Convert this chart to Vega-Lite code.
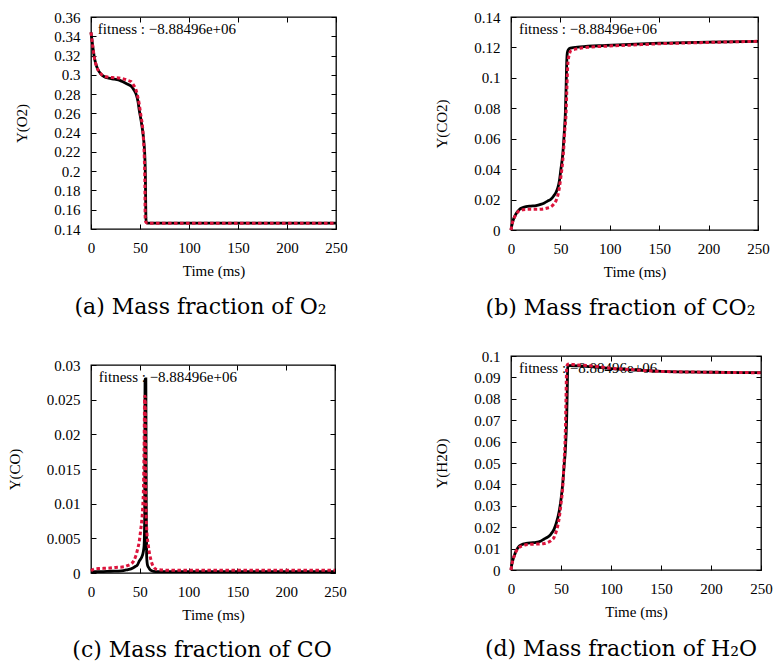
{
 "$schema": "https://vega.github.io/schema/vega-lite/v6.json",
 "padding": {"left": 6, "top": 9, "right": 0, "bottom": 0},
 "background": "white",
 "datasets": {
  "o2_sim": [{"t":0,"y":0.344},{"t":1,"y":0.336},{"t":2,"y":0.328},{"t":3.4,"y":0.318},{"t":5,"y":0.311},{"t":6.8,"y":0.306},{"t":10,"y":0.301},{"t":13.6,"y":0.298},{"t":18,"y":0.2965},{"t":23.8,"y":0.2955},{"t":30,"y":0.294},{"t":34,"y":0.292},{"t":38,"y":0.29},{"t":40.8,"y":0.2885},{"t":44,"y":0.284},{"t":46,"y":0.28},{"t":48,"y":0.272},{"t":49.3,"y":0.263},{"t":51,"y":0.253},{"t":52.7,"y":0.242},{"t":54,"y":0.23},{"t":55,"y":0.214},{"t":55.5,"y":0.195},{"t":56,"y":0.152},{"t":56.5,"y":0.147},{"t":58,"y":0.146},{"t":70,"y":0.146},{"t":250,"y":0.146}],
  "o2_ref": [{"t":0,"y":0.344},{"t":1,"y":0.336},{"t":2,"y":0.328},{"t":3.4,"y":0.318},{"t":5,"y":0.311},{"t":6.8,"y":0.306},{"t":10,"y":0.301},{"t":13.6,"y":0.2985},{"t":18,"y":0.2975},{"t":23.8,"y":0.297},{"t":30,"y":0.2965},{"t":34,"y":0.2955},{"t":38,"y":0.294},{"t":40.8,"y":0.293},{"t":43,"y":0.29},{"t":46,"y":0.284},{"t":48,"y":0.276},{"t":49.3,"y":0.269},{"t":51,"y":0.257},{"t":52.7,"y":0.245},{"t":53.6,"y":0.232},{"t":54.4,"y":0.214},{"t":55,"y":0.185},{"t":55.3,"y":0.152},{"t":56,"y":0.147},{"t":58,"y":0.146},{"t":70,"y":0.146},{"t":250,"y":0.146}],
  "co2_sim": [{"t":0,"y":0},{"t":1,"y":0.0035},{"t":2,"y":0.006},{"t":3.4,"y":0.0084},{"t":5,"y":0.0105},{"t":8.5,"y":0.0135},{"t":12,"y":0.0147},{"t":15.2,"y":0.0153},{"t":20,"y":0.0157},{"t":25.4,"y":0.016},{"t":30,"y":0.0168},{"t":33.8,"y":0.0178},{"t":37,"y":0.019},{"t":40.6,"y":0.0204},{"t":43,"y":0.0222},{"t":45.6,"y":0.0248},{"t":47.5,"y":0.028},{"t":49,"y":0.0324},{"t":50.5,"y":0.04},{"t":52.4,"y":0.05},{"t":53.5,"y":0.06},{"t":54.3,"y":0.068},{"t":55,"y":0.0763},{"t":55.8,"y":0.095},{"t":56.5,"y":0.112},{"t":57,"y":0.1165},{"t":58,"y":0.1185},{"t":60,"y":0.1195},{"t":70,"y":0.1203},{"t":96,"y":0.1213},{"t":120,"y":0.122},{"t":150,"y":0.1228},{"t":200,"y":0.1235},{"t":250,"y":0.124}],
  "co2_ref": [{"t":0,"y":0},{"t":1,"y":0.0035},{"t":2,"y":0.006},{"t":3.4,"y":0.0082},{"t":5,"y":0.0102},{"t":8.5,"y":0.0127},{"t":12,"y":0.0133},{"t":15.2,"y":0.0135},{"t":20,"y":0.0136},{"t":25.4,"y":0.0136},{"t":30,"y":0.0137},{"t":33.8,"y":0.014},{"t":37,"y":0.0145},{"t":40.6,"y":0.0153},{"t":43,"y":0.0168},{"t":45.6,"y":0.0193},{"t":47.5,"y":0.023},{"t":49,"y":0.028},{"t":50.5,"y":0.035},{"t":52.4,"y":0.0456},{"t":53.5,"y":0.055},{"t":54.5,"y":0.066},{"t":55.7,"y":0.0763},{"t":56.5,"y":0.092},{"t":57.5,"y":0.109},{"t":58.5,"y":0.114},{"t":60.9,"y":0.118},{"t":70,"y":0.1195},{"t":79.5,"y":0.1202},{"t":96,"y":0.1208},{"t":120,"y":0.1215},{"t":150,"y":0.1224},{"t":200,"y":0.1233},{"t":250,"y":0.124}],
  "co_sim": [{"t":0,"y":0.0002},{"t":10,"y":0.0002},{"t":20,"y":0.00025},{"t":31,"y":0.0003},{"t":38,"y":0.0005},{"t":41,"y":0.0006},{"t":45,"y":0.0009},{"t":47.7,"y":0.0012},{"t":49.4,"y":0.0017},{"t":52,"y":0.0023},{"t":53.5,"y":0.003},{"t":54.4,"y":0.0039},{"t":55,"y":0.008},{"t":55.4,"y":0.028},{"t":56.2,"y":0.028},{"t":56.6,"y":0.01},{"t":57,"y":0.0025},{"t":57.8,"y":0.0012},{"t":59,"y":0.0008},{"t":61,"y":0.0004},{"t":64,"y":0.00025},{"t":68,"y":0.0002},{"t":80,"y":0.0002},{"t":250,"y":0.0002}],
  "co_ref": [{"t":0,"y":0.0003},{"t":2,"y":0.0005},{"t":4,"y":0.0006},{"t":10,"y":0.00065},{"t":17.5,"y":0.0007},{"t":25,"y":0.0008},{"t":34,"y":0.0009},{"t":38,"y":0.0011},{"t":41,"y":0.0013},{"t":44,"y":0.0018},{"t":46,"y":0.0025},{"t":47.7,"y":0.0034},{"t":49.4,"y":0.0045},{"t":51,"y":0.0063},{"t":52,"y":0.0075},{"t":53,"y":0.0095},{"t":53.8,"y":0.0125},{"t":54.4,"y":0.018},{"t":55,"y":0.0255},{"t":55.5,"y":0.0255},{"t":56,"y":0.012},{"t":57,"y":0.0065},{"t":58.8,"y":0.0039},{"t":61.2,"y":0.002},{"t":64.5,"y":0.0008},{"t":68,"y":0.0005},{"t":80,"y":0.0004},{"t":250,"y":0.0004}],
  "h2o_sim": [{"t":0,"y":0},{"t":1,"y":0.003},{"t":2,"y":0.0048},{"t":3.3,"y":0.0067},{"t":5,"y":0.0088},{"t":8.3,"y":0.0112},{"t":12,"y":0.0121},{"t":15,"y":0.0124},{"t":20,"y":0.0127},{"t":25,"y":0.0129},{"t":30,"y":0.0136},{"t":33.3,"y":0.0145},{"t":37,"y":0.0155},{"t":40,"y":0.0168},{"t":43,"y":0.019},{"t":45,"y":0.0215},{"t":48.3,"y":0.0277},{"t":50,"y":0.033},{"t":51.7,"y":0.0402},{"t":53,"y":0.048},{"t":54.3,"y":0.0557},{"t":55.7,"y":0.0713},{"t":56.3,"y":0.085},{"t":56.7,"y":0.0947},{"t":58,"y":0.0955},{"t":60,"y":0.0955},{"t":80,"y":0.095},{"t":100,"y":0.0941},{"t":125,"y":0.0934},{"t":150,"y":0.0928},{"t":200,"y":0.0924},{"t":250,"y":0.0922}],
  "h2o_ref": [{"t":0,"y":0},{"t":1,"y":0.003},{"t":2,"y":0.0048},{"t":3.3,"y":0.0066},{"t":5,"y":0.0086},{"t":8.3,"y":0.0106},{"t":12,"y":0.0114},{"t":15,"y":0.0118},{"t":20,"y":0.012},{"t":25,"y":0.0121},{"t":30,"y":0.0122},{"t":33.3,"y":0.0124},{"t":37,"y":0.0129},{"t":40,"y":0.0137},{"t":43,"y":0.0152},{"t":45,"y":0.0176},{"t":48.3,"y":0.0246},{"t":50,"y":0.031},{"t":51.7,"y":0.0386},{"t":53,"y":0.05},{"t":54.3,"y":0.0636},{"t":55,"y":0.08},{"t":55.7,"y":0.0947},{"t":56.5,"y":0.096},{"t":58.3,"y":0.0963},{"t":65,"y":0.0958},{"t":78,"y":0.0955},{"t":100,"y":0.0943},{"t":125,"y":0.0935},{"t":150,"y":0.0928},{"t":200,"y":0.0924},{"t":250,"y":0.0922}],
  "fit_o2": [{"t":7,"y":0.3475,"label":"fitness : −8.88496e+06"}],
  "fit_co2": [{"t":8,"y":0.1321,"label":"fitness : −8.88496e+06"}],
  "fit_co": [{"t":8,"y":0.0283,"label":"fitness : −8.88496e+06"}],
  "fit_h2o": [{"t":8,"y":0.0944,"label":"fitness : −8.88496e+06"}]
 },
 "spacing": 86,
 "hconcat": [
  {"spacing": 38, "vconcat": [
   {"width": 245, "height": 212,
    "title": {"text": "(a) Mass fraction of O₂", "orient": "bottom", "anchor": "middle", "frame": "group", "offset": 19, "dx": -13},
    "resolve": {"axis": {"x": "independent", "y": "independent"}},
    "layer": [
     {"data": {"name": "fit_o2"}, "mark": {"type": "text", "align": "left", "baseline": "middle", "font": "Liberation Serif", "fontSize": 15, "color": "#000"},
      "encoding": {
       "x": {"field": "t", "type": "quantitative", "scale": {"domain": [0, 250], "nice": false, "zero": false}, "axis": {"orient": "top", "labels": false, "title": null, "values": [0, 50, 100, 150, 200, 250]}},
       "y": {"field": "y", "type": "quantitative", "scale": {"domain": [0.14, 0.36], "nice": false, "zero": false}, "axis": {"orient": "right", "labels": false, "title": null, "values": [0.14,0.16,0.18,0.2,0.22,0.24,0.26,0.28,0.3,0.32,0.34,0.36]}},
       "text": {"field": "label"}}},
     {"data": {"name": "o2_sim"}, "mark": {"type": "line", "color": "#000", "strokeWidth": 2.8, "interpolate": "monotone"},
      "encoding": {
       "x": {"field": "t", "type": "quantitative", "scale": {"domain": [0, 250], "nice": false, "zero": false}, "axis": {"title": "Time (ms)", "values": [0, 50, 100, 150, 200, 250]}},
       "y": {"field": "y", "type": "quantitative", "scale": {"domain": [0.14, 0.36], "nice": false, "zero": false}, "axis": {"title": "Y(O2)", "format": "~g", "values": [0.14,0.16,0.18,0.2,0.22,0.24,0.26,0.28,0.3,0.32,0.34,0.36]}}}},
     {"data": {"name": "o2_ref"}, "mark": {"type": "line", "color": "#dc143c", "strokeWidth": 3, "strokeDash": [3.5, 2.5], "strokeCap": "butt", "interpolate": "monotone"},
      "encoding": {
       "x": {"field": "t", "type": "quantitative", "axis": null},
       "y": {"field": "y", "type": "quantitative", "axis": null}}}
    ]},
   {"width": 244, "height": 208,
    "title": {"text": "(c) Mass fraction of CO", "orient": "bottom", "anchor": "middle", "frame": "group", "offset": 18, "dx": -11},
    "resolve": {"axis": {"x": "independent", "y": "independent"}},
    "layer": [
     {"data": {"name": "fit_co"}, "mark": {"type": "text", "align": "left", "baseline": "middle", "font": "Liberation Serif", "fontSize": 15, "color": "#000"},
      "encoding": {
       "x": {"field": "t", "type": "quantitative", "scale": {"domain": [0, 250], "nice": false, "zero": false}, "axis": {"orient": "top", "labels": false, "title": null, "values": [0, 50, 100, 150, 200, 250]}},
       "y": {"field": "y", "type": "quantitative", "scale": {"domain": [0, 0.03], "nice": false, "zero": false}, "axis": {"orient": "right", "labels": false, "title": null, "values": [0,0.005,0.01,0.015,0.02,0.025,0.03]}},
       "text": {"field": "label"}}},
     {"data": {"name": "co_sim"}, "mark": {"type": "line", "color": "#000", "strokeWidth": 2.8, "interpolate": "monotone"},
      "encoding": {
       "x": {"field": "t", "type": "quantitative", "scale": {"domain": [0, 250], "nice": false, "zero": false}, "axis": {"title": "Time (ms)", "values": [0, 50, 100, 150, 200, 250]}},
       "y": {"field": "y", "type": "quantitative", "scale": {"domain": [0, 0.03], "nice": false, "zero": false}, "axis": {"title": "Y(CO)", "format": "~g", "values": [0,0.005,0.01,0.015,0.02,0.025,0.03]}}}},
     {"data": {"name": "co_ref"}, "mark": {"type": "line", "color": "#dc143c", "strokeWidth": 3, "strokeDash": [3.5, 2.5], "strokeCap": "butt", "interpolate": "monotone"},
      "encoding": {
       "x": {"field": "t", "type": "quantitative", "axis": null},
       "y": {"field": "y", "type": "quantitative", "axis": null}}}
    ]}
  ]},
  {"spacing": 28, "vconcat": [
   {"width": 247, "height": 213,
    "title": {"text": "(b) Mass fraction of CO₂", "orient": "bottom", "anchor": "middle", "frame": "group", "offset": 19, "dx": -14},
    "resolve": {"axis": {"x": "independent", "y": "independent"}},
    "layer": [
     {"data": {"name": "fit_co2"}, "mark": {"type": "text", "align": "left", "baseline": "middle", "font": "Liberation Serif", "fontSize": 15, "color": "#000"},
      "encoding": {
       "x": {"field": "t", "type": "quantitative", "scale": {"domain": [0, 250], "nice": false, "zero": false}, "axis": {"orient": "top", "labels": false, "title": null, "values": [0, 50, 100, 150, 200, 250]}},
       "y": {"field": "y", "type": "quantitative", "scale": {"domain": [0, 0.14], "nice": false, "zero": false}, "axis": {"orient": "right", "labels": false, "title": null, "values": [0,0.02,0.04,0.06,0.08,0.1,0.12,0.14]}},
       "text": {"field": "label"}}},
     {"data": {"name": "co2_sim"}, "mark": {"type": "line", "color": "#000", "strokeWidth": 2.8, "interpolate": "monotone"},
      "encoding": {
       "x": {"field": "t", "type": "quantitative", "scale": {"domain": [0, 250], "nice": false, "zero": false}, "axis": {"title": "Time (ms)", "values": [0, 50, 100, 150, 200, 250]}},
       "y": {"field": "y", "type": "quantitative", "scale": {"domain": [0, 0.14], "nice": false, "zero": false}, "axis": {"title": "Y(CO2)", "format": "~g", "values": [0,0.02,0.04,0.06,0.08,0.1,0.12,0.14]}}}},
     {"data": {"name": "co2_ref"}, "mark": {"type": "line", "color": "#dc143c", "strokeWidth": 3, "strokeDash": [3.5, 2.5], "strokeCap": "butt", "interpolate": "monotone"},
      "encoding": {
       "x": {"field": "t", "type": "quantitative", "axis": null},
       "y": {"field": "y", "type": "quantitative", "axis": null}}}
    ]},
   {"width": 250, "height": 214,
    "title": {"text": "(d) Mass fraction of H₂O", "orient": "bottom", "anchor": "middle", "frame": "group", "offset": 20, "dx": -15},
    "resolve": {"axis": {"x": "independent", "y": "independent"}},
    "layer": [
     {"data": {"name": "fit_h2o"}, "mark": {"type": "text", "align": "left", "baseline": "middle", "font": "Liberation Serif", "fontSize": 15, "color": "#000"},
      "encoding": {
       "x": {"field": "t", "type": "quantitative", "scale": {"domain": [0, 250], "nice": false, "zero": false}, "axis": {"orient": "top", "labels": false, "title": null, "values": [0, 50, 100, 150, 200, 250]}},
       "y": {"field": "y", "type": "quantitative", "scale": {"domain": [0, 0.1], "nice": false, "zero": false}, "axis": {"orient": "right", "labels": false, "title": null, "values": [0,0.01,0.02,0.03,0.04,0.05,0.06,0.07,0.08,0.09,0.1]}},
       "text": {"field": "label"}}},
     {"data": {"name": "h2o_sim"}, "mark": {"type": "line", "color": "#000", "strokeWidth": 2.8, "interpolate": "monotone"},
      "encoding": {
       "x": {"field": "t", "type": "quantitative", "scale": {"domain": [0, 250], "nice": false, "zero": false}, "axis": {"title": "Time (ms)", "values": [0, 50, 100, 150, 200, 250]}},
       "y": {"field": "y", "type": "quantitative", "scale": {"domain": [0, 0.1], "nice": false, "zero": false}, "axis": {"title": "Y(H2O)", "format": "~g", "values": [0,0.01,0.02,0.03,0.04,0.05,0.06,0.07,0.08,0.09,0.1]}}}},
     {"data": {"name": "h2o_ref"}, "mark": {"type": "line", "color": "#dc143c", "strokeWidth": 3, "strokeDash": [3.5, 2.5], "strokeCap": "butt", "interpolate": "monotone"},
      "encoding": {
       "x": {"field": "t", "type": "quantitative", "axis": null},
       "y": {"field": "y", "type": "quantitative", "axis": null}}}
    ]}
  ]}
 ],
 "config": {
  "view": {"stroke": "#000", "strokeWidth": 1.3},
  "font": "Liberation Serif",
  "axis": {"labelFont": "Liberation Serif", "labelFontSize": 15, "labelColor": "#000", "titleFont": "Liberation Serif", "titleFontSize": 15, "titleFontWeight": "normal", "titleColor": "#000", "grid": false, "domain": false, "tickColor": "#000", "tickWidth": 1, "tickSize": -5, "labelPadding": 16, "labelFlush": false, "labelOverlap": false},
  "axisX": {"titlePadding": 8},
  "axisY": {"titlePadding": 24},
  "title": {"font": "DejaVu Serif", "fontSize": 22, "fontWeight": "normal", "color": "#000"}
 }
}
